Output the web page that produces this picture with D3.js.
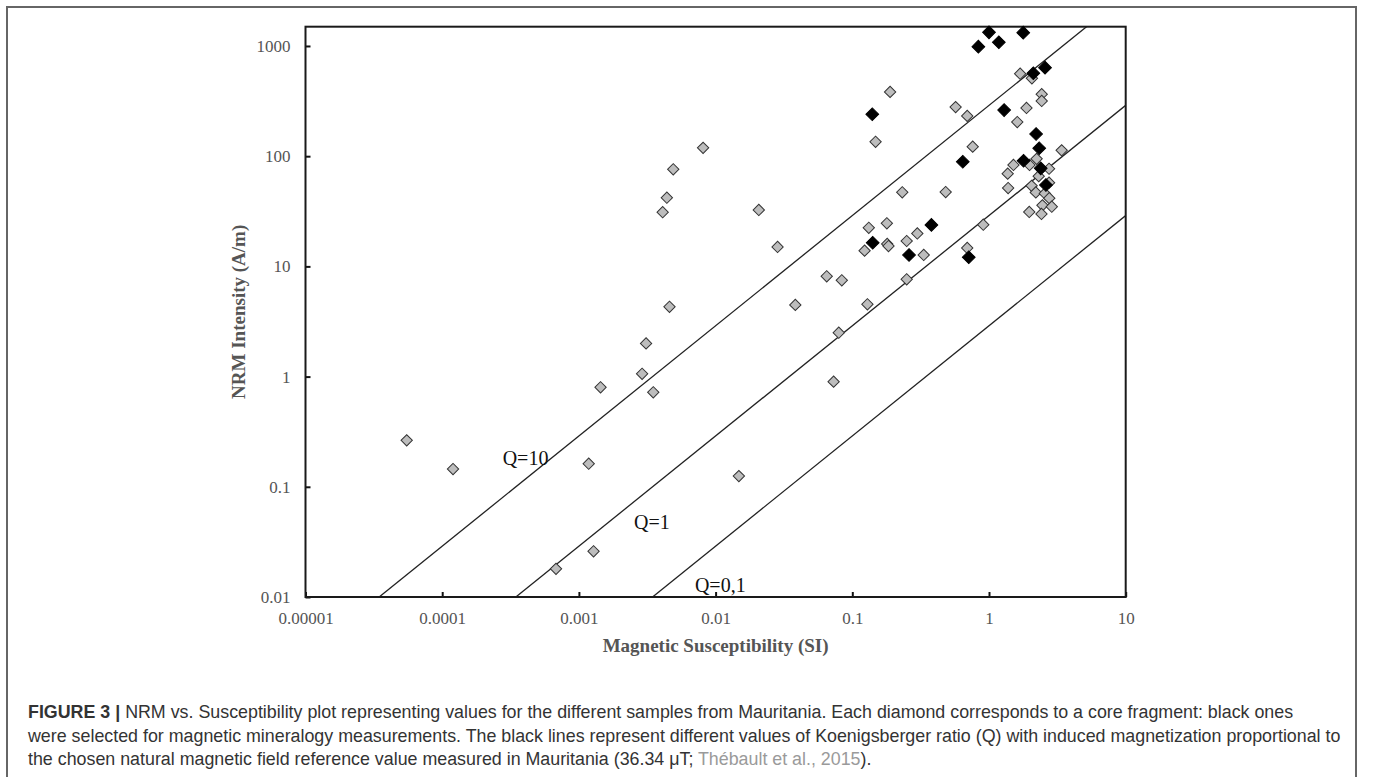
<!DOCTYPE html>
<html>
<head>
<meta charset="utf-8">
<script src="https://cdn.jsdelivr.net/npm/d3@7"></script>
<style>
  body { margin: 0; background: #fff; }
  svg { display: block; }
</style>
</head>
<body>
<svg id="chart"></svg>
<script>
// grey diamonds: all core fragments
var grayK = [0.0081, 0.0049, 0.0044, 0.0041, 0.0046, 0.0031, 0.0029, 0.00144, 0.0035,
  0.000055, 0.00012, 0.00118, 0.00128, 0.00068, 0.073, 0.0148, 0.0207, 0.0284, 0.0383,
  0.189, 0.148, 0.570, 0.693, 1.69, 2.06, 2.43, 2.43, 1.88, 1.61, 0.760, 3.40, 2.23,
  1.98, 1.51, 1.37, 2.75, 2.31, 2.75, 2.05, 1.38, 2.20, 2.56, 2.76, 2.46, 2.88, 1.97,
  2.42, 0.232, 0.482, 0.132, 0.179, 0.299, 0.250, 0.180, 0.184, 0.123, 0.333, 0.693,
  0.908, 0.0650, 0.0838, 0.250, 0.129, 0.0796];
var grayNRM = [119, 76, 42, 31, 4.3, 2.0, 1.06, 0.80, 0.72,
  0.264, 0.145, 0.162, 0.026, 0.018, 0.90, 0.125, 32.5, 15.0, 4.47,
  383, 135, 279, 232, 560, 509, 365, 317, 274, 204, 122, 113, 94.6,
  83.2, 83.2, 69.4, 76.9, 65.9, 57.5, 53.8, 51.4, 46.9, 45.9, 41.6, 35.8, 34.8, 31.2,
  29.9, 47.0, 47.3, 22.4, 24.6, 19.9, 17.0, 16.0, 15.3, 13.9, 12.7, 14.7,
  23.9, 8.13, 7.48, 7.64, 4.53, 2.50];

// black diamonds: selected for magnetic mineralogy
var blackK = [1.00, 0.836, 1.18, 1.78, 2.11, 2.57, 0.140, 1.29, 2.21, 2.33, 1.79,
  0.643, 2.39, 2.61, 0.379, 0.141, 0.260, 0.711];
var blackNRM = [1330, 986, 1080, 1320, 565, 636, 240, 262, 159, 118, 91,
  89, 77.6, 54.8, 23.8, 16.4, 12.7, 12.1];

// Koenigsberger ratio lines
var qValues = [10, 1, 0.1];
var qLabels = ["Q=10", "Q=1", "Q=0,1"];
var fieldMicroT = 36.34;

var xTicks = [0.00001, 0.0001, 0.001, 0.01, 0.1, 1, 10];
var xTickLabels = ["0.00001", "0.0001", "0.001", "0.01", "0.1", "1", "10"];
var yTicks = [0.01, 0.1, 1, 10, 100, 1000];
var yTickLabels = ["0.01", "0.1", "1", "10", "100", "1000"];

var captionLines = [
  [{t: "FIGURE 3 |", b: true}, {t: " NRM vs. Susceptibility plot representing values for the different samples from Mauritania. Each diamond corresponds to a core fragment: black ones"}],
  [{t: "were selected for magnetic mineralogy measurements. The black lines represent different values of Koenigsberger ratio (Q) with induced magnetization proportional to"}],
  [{t: "the chosen natural magnetic field reference value measured in Mauritania (36.34 \u03bcT; "}, {t: "Th\u00e9bault et al., 2015", link: true}, {t: ")."}]
];

var W = 1374, H = 777;
var serif = "'Liberation Serif', 'Times New Roman', serif";
var sans = "'Liberation Sans', Arial, Helvetica, sans-serif";

var svg = d3.select("#chart")
  .attr("width", W)
  .attr("height", H);

svg.append("rect").attr("width", W).attr("height", H).attr("fill", "#fff");

// outer figure box
svg.append("path")
  .attr("d", "M7," + (H + 5) + "V7H1356V" + (H + 5))
  .attr("fill", "none")
  .attr("stroke", "#666")
  .attr("stroke-width", 2);

var plot = {left: 305.5, right: 1125.7, top: 26.7, bottom: 597};

var x = d3.scaleLog()
  .domain([0.00001, 10])
  .range([plot.left, plot.right]);

var y = d3.scaleLog()
  .domain([0.01, 1496])
  .range([plot.bottom, plot.top]);

svg.append("clipPath").attr("id", "clip")
  .append("rect")
  .attr("x", plot.left).attr("y", plot.top)
  .attr("width", plot.right - plot.left)
  .attr("height", plot.bottom - plot.top);

// Q lines: NRM = Q * k * H, H = B / mu0
var fieldAm = fieldMicroT * 1e-6 / (4 * Math.PI * 1e-7);
var line = d3.line()
  .x(function(d) { return x(d[0]); })
  .y(function(d) { return y(d[1]); });

svg.append("g")
  .attr("clip-path", "url(#clip)")
  .selectAll("path")
  .data(qValues)
  .enter().append("path")
  .attr("d", function(q) {
    var k0 = x.domain()[0], k1 = x.domain()[1];
    return line([[k0, q * k0 * fieldAm], [k1, q * k1 * fieldAm]]);
  })
  .attr("fill", "none")
  .attr("stroke", "#222")
  .attr("stroke-width", 1.3);

// Q labels
var qLabelAnchor = [[0.000277, 0.158], [0.00253, 0.0414], [0.00706, 0.0111]];
svg.append("g").selectAll("text")
  .data(qLabels)
  .enter().append("text")
  .attr("x", function(d, i) { return x(qLabelAnchor[i][0]); })
  .attr("y", function(d, i) { return y(qLabelAnchor[i][1]); })
  .attr("font-family", serif)
  .attr("font-size", 20)
  .attr("fill", "#111")
  .text(function(d) { return d; });

// axes
var xAxis = d3.axisBottom(x)
  .tickValues(xTicks)
  .tickFormat(function(d, i) { return xTickLabels[i]; })
  .tickSizeInner(-5)
  .tickSizeOuter(0)
  .tickPadding(15);

var yAxis = d3.axisLeft(y)
  .tickValues(yTicks)
  .tickFormat(function(d, i) { return yTickLabels[i]; })
  .tickSizeInner(-5)
  .tickSizeOuter(0)
  .tickPadding(15);

var gx = svg.append("g")
  .attr("transform", "translate(0," + plot.bottom + ")")
  .call(xAxis);
var gy = svg.append("g")
  .attr("transform", "translate(" + plot.left + ",0)")
  .call(yAxis);

[gx, gy].forEach(function(g) {
  g.select(".domain").remove();
  g.selectAll(".tick line").attr("stroke", "#111").attr("stroke-width", 2);
  g.selectAll(".tick text")
    .attr("font-family", serif)
    .attr("font-size", 17)
    .attr("fill", "#555");
});

// plot frame
svg.append("rect")
  .attr("x", plot.left).attr("y", plot.top)
  .attr("width", plot.right - plot.left)
  .attr("height", plot.bottom - plot.top)
  .attr("fill", "none")
  .attr("stroke", "#1a1a1a")
  .attr("stroke-width", 2);

// diamonds
function diamonds(ks, vals, fill, stroke, size) {
  svg.append("g").selectAll("path")
    .data(ks)
    .enter().append("path")
    .attr("d", d3.symbol(d3.symbolSquare, size * size))
    .attr("transform", function(d, i) {
      return "translate(" + x(d) + "," + y(vals[i]) + ") rotate(45)";
    })
    .attr("fill", fill)
    .attr("stroke", stroke)
    .attr("stroke-width", 1);
}
diamonds(grayK, grayNRM, "#bdbdbd", "#333", 8);
diamonds(blackK, blackNRM, "#000", "#000", 9);

// axis titles
svg.append("text")
  .attr("x", 715.6)
  .attr("y", 652)
  .attr("text-anchor", "middle")
  .attr("font-family", serif)
  .attr("font-weight", "bold")
  .attr("font-size", 19)
  .attr("fill", "#555")
  .text("Magnetic Susceptibility (SI)");

svg.append("text")
  .attr("transform", "translate(245," + ((plot.top + plot.bottom) / 2) + ") rotate(-90)")
  .attr("text-anchor", "middle")
  .attr("font-family", serif)
  .attr("font-weight", "bold")
  .attr("font-size", 19)
  .attr("fill", "#555")
  .text("NRM Intensity (A/m)");

// caption
var cap = svg.append("g");
var capTexts = captionLines.map(function(parts, i) {
  var t = cap.append("text")
    .attr("x", 28)
    .attr("y", 718 + i * 23.6)
    .attr("font-family", sans)
    .attr("font-size", 16)
    .attr("fill", "#333");
  parts.forEach(function(p) {
    t.append("tspan")
      .attr("font-weight", p.b ? "bold" : null)
      .attr("fill", p.link ? "#9a9a9a" : null)
      .text(p.t);
  });
  return t;
});
// fit font size so the second line spans the same width as in the figure caption
var w2 = capTexts[1].node().getComputedTextLength();
var fs = 16 * 1313 / w2;
capTexts.forEach(function(t) { t.attr("font-size", fs); });
</script>
</body>
</html>
